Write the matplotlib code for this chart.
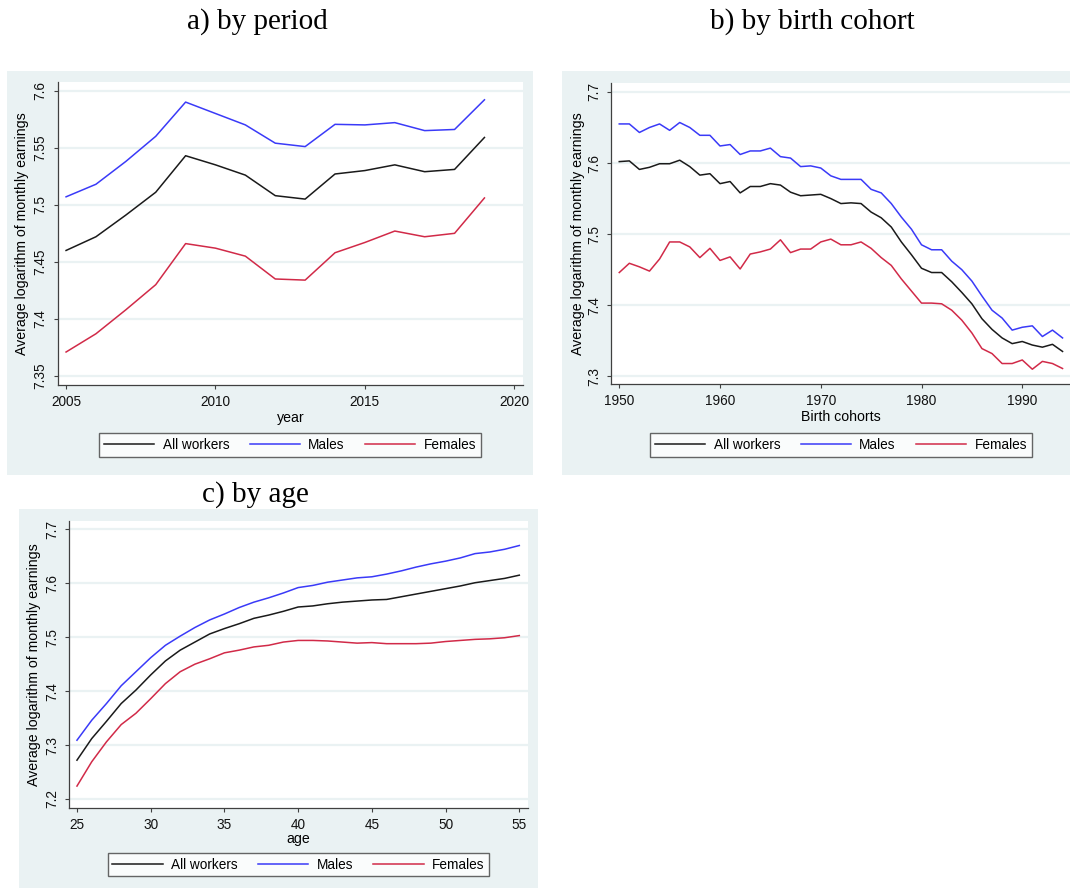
import matplotlib
import numpy as np

matplotlib.use("Agg")
import matplotlib.pyplot as plt  # noqa: E402

# a) by period
years = np.arange(2005, 2020)
all_period = [7.460, 7.472, 7.491, 7.511, 7.543, 7.535, 7.526, 7.508, 7.505, 7.527,
              7.530, 7.535, 7.529, 7.531, 7.559]
males_period = [7.507, 7.518, 7.538, 7.560, 7.590, 7.580, 7.570, 7.554, 7.551, 7.5705,
                7.570, 7.572, 7.565, 7.566, 7.592]
females_period = [7.371, 7.387, 7.408, 7.430, 7.466, 7.462, 7.455, 7.435, 7.434, 7.458,
                  7.467, 7.477, 7.472, 7.475, 7.506]

# b) by birth cohort
cohorts = np.arange(1950, 1995)
all_cohort = [7.602, 7.603, 7.591, 7.594, 7.599, 7.599, 7.604, 7.595, 7.583, 7.585,
              7.571, 7.574, 7.558, 7.567, 7.567, 7.571, 7.569, 7.559, 7.554, 7.555,
              7.556, 7.550, 7.543, 7.544, 7.543, 7.531, 7.523, 7.510, 7.489, 7.471,
              7.452, 7.446, 7.446, 7.433, 7.418, 7.402, 7.381, 7.366, 7.354, 7.346,
              7.349, 7.344, 7.341, 7.345, 7.335]
males_cohort = [7.655, 7.655, 7.643, 7.650, 7.655, 7.646, 7.657, 7.650, 7.639, 7.639,
                7.624, 7.626, 7.612, 7.617, 7.617, 7.621, 7.609, 7.607, 7.595, 7.596,
                7.593, 7.582, 7.577, 7.577, 7.577, 7.563, 7.558, 7.543, 7.524, 7.507,
                7.485, 7.478, 7.478, 7.462, 7.450, 7.434, 7.413, 7.393, 7.382, 7.365,
                7.369, 7.371, 7.356, 7.365, 7.354]
females_cohort = [7.446, 7.459, 7.454, 7.448, 7.465, 7.489, 7.489, 7.482, 7.467, 7.480,
                  7.463, 7.468, 7.451, 7.472, 7.475, 7.479, 7.492, 7.474, 7.479, 7.479,
                  7.489, 7.493, 7.485, 7.485, 7.489, 7.480, 7.467, 7.456, 7.437, 7.420,
                  7.403, 7.403, 7.402, 7.393, 7.379, 7.361, 7.339, 7.332, 7.318, 7.318,
                  7.323, 7.310, 7.321, 7.318, 7.311]

# c) by age
ages = np.arange(25, 56)
all_age = [7.272, 7.312, 7.344, 7.377, 7.402, 7.430, 7.456, 7.476, 7.491, 7.506,
           7.516, 7.525, 7.535, 7.541, 7.548, 7.556, 7.558, 7.562, 7.565, 7.567,
           7.569, 7.570, 7.575, 7.580, 7.585, 7.590, 7.595, 7.601, 7.605, 7.609, 7.615]
males_age = [7.309, 7.346, 7.377, 7.410, 7.436, 7.462, 7.485, 7.502, 7.518, 7.532,
             7.543, 7.555, 7.565, 7.573, 7.582, 7.592, 7.596, 7.602, 7.606, 7.610,
             7.612, 7.617, 7.623, 7.630, 7.636, 7.641, 7.647, 7.655, 7.658, 7.663, 7.670]
females_age = [7.224, 7.269, 7.306, 7.338, 7.359, 7.386, 7.414, 7.436, 7.450, 7.460,
               7.471, 7.476, 7.482, 7.485, 7.491, 7.494, 7.494, 7.493, 7.491, 7.489,
               7.490, 7.488, 7.488, 7.488, 7.489, 7.492, 7.494, 7.496, 7.497, 7.499, 7.503]

series_labels = ["All workers", "Males", "Females"]
series_colors = ["#1a1a1a", "#3a3af8", "#d12a48"]

W, H = 1070, 888
BG = "#eaf2f3"
AXC = "#404040"
plt.rcParams["font.family"] = ["Liberation Sans", "DejaVu Sans"]

fig = plt.figure(figsize=(W / 100, H / 100), dpi=100)


def px_axes(x0, y0, x1, y1, **kw):
    return fig.add_axes([x0 / W, 1 - y1 / H, (x1 - x0) / W, (y1 - y0) / H], **kw)


def panel(bg, box, legbox, x, ys, xlim, ylim, xticks, yticks, xlabel, ylabel_x, xlabel_y):
    back = px_axes(*bg)
    back.set_facecolor(BG)
    back.set_xticks([])
    back.set_yticks([])
    for s in back.spines.values():
        s.set_visible(False)

    ax = px_axes(*box)
    ax.set_facecolor("white")
    for y, lab, col in zip(ys, series_labels, series_colors):
        ax.plot(x, y, color=col, lw=1.1, label=lab)
    ax.set_xlim(*xlim)
    ax.set_ylim(*ylim)
    ax.set_xticks(xticks)
    ax.set_yticks(yticks)
    ax.set_yticklabels([f"{t:g}" for t in yticks], rotation=90, va="center")
    ax.grid(axis="y", color=BG, lw=1.6)
    ax.set_axisbelow(True)
    for s in ["top", "right"]:
        ax.spines[s].set_visible(False)
    for s in ["left", "bottom"]:
        ax.spines[s].set_color(AXC)
        ax.spines[s].set_linewidth(0.9)
    ax.tick_params(direction="out", length=3.2, width=0.8, color=AXC,
                   labelsize=9.8, labelcolor="#111111", pad=4)
    ax.set_ylabel("Average logarithm of monthly earnings", fontsize=10.2)
    ax.set_xlabel(xlabel, fontsize=10.2)
    w = box[2] - box[0]
    h = box[3] - box[1]
    ax.yaxis.set_label_coords((ylabel_x - box[0]) / w, 0.5)
    ax.xaxis.set_label_coords(0.5, (box[3] - xlabel_y) / h)

    lx0, ly0, lx1, ly1 = legbox
    leg = ax.legend(loc="center", ncol=3,
                    bbox_to_anchor=((lx0 + lx1) / 2 / W, 1 - (ly0 + ly1) / 2 / H),
                    bbox_transform=fig.transFigure, fontsize=9.8, frameon=True,
                    fancybox=False, handlelength=3.7, borderpad=0.35,
                    handletextpad=0.6, columnspacing=1.5, borderaxespad=0)
    leg.get_frame().set_edgecolor(AXC)
    leg.get_frame().set_linewidth(1.0)
    return ax


panel((7.3, 71, 532.7, 475), (57.7, 82, 523.3, 385), (99, 432, 481, 458),
      years, [all_period, males_period, females_period],
      (2004.72, 2020.30), (7.3421, 7.6076), [2005, 2010, 2015, 2020],
      [7.35, 7.4, 7.45, 7.5, 7.55, 7.6], "year", 29, 411)

panel((562.3, 71, 1070, 475), (611, 82.7, 1070, 384), (652, 432, 1030, 458),
      cohorts, [all_cohort, males_cohort, females_cohort],
      (1949.18, 1994.74), (7.2892, 7.713), [1950, 1960, 1970, 1980, 1990],
      [7.3, 7.4, 7.5, 7.6, 7.7], "Birth cohorts", 585, 410)

panel((19.3, 509, 538.3, 888), (69, 520.7, 528.3, 807.7), (110, 852, 487, 877),
      ages, [all_age, males_age, females_age],
      (24.46, 55.61), (7.1839, 7.716), [25, 30, 35, 40, 45, 50, 55],
      [7.2, 7.3, 7.4, 7.5, 7.6, 7.7], "age", 41, 832)

title_font = dict(family=["Liberation Serif", "DejaVu Serif"], fontsize=21, ha="center",
                  va="baseline")
fig.text(257 / W, 1 - 29 / H, "a) by period", **title_font)
fig.text(812 / W, 1 - 29 / H, "b) by birth cohort", **title_font)
fig.text(255 / W, 1 - 502 / H, "c) by age", **title_font)

fig.savefig("out.png", dpi=100)
